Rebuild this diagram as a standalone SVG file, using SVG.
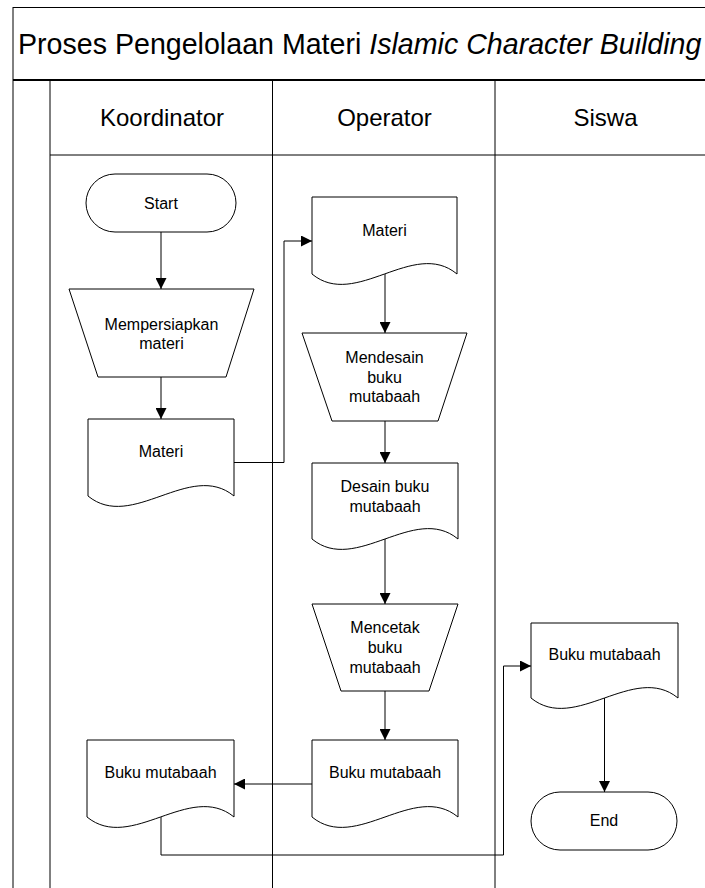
<svg xmlns="http://www.w3.org/2000/svg" width="705" height="888" viewBox="0 0 705 888">
<defs>
<style>
.ln{stroke:#000;stroke-width:1;fill:none}
.sh{stroke:#000;stroke-width:1;fill:#fff}
.t{font-family:"Liberation Sans",Arial,sans-serif;font-size:16px;fill:#000;text-anchor:middle}
.h{font-family:"Liberation Sans",Arial,sans-serif;font-size:24px;fill:#000;text-anchor:middle}
.ttl{font-family:"Liberation Sans",Arial,sans-serif;font-size:28.6px;fill:#000}
.c{stroke:#000;stroke-width:1;fill:none;marker-end:url(#arr)}
</style>
<marker id="arr" markerUnits="userSpaceOnUse" markerWidth="11" markerHeight="11" refX="11" refY="5.5" orient="auto">
<path d="M0,0 L11,5.5 L0,11 Z" fill="#000"/>
</marker>
</defs>
<rect width="705" height="888" fill="#fff"/>
<g id="pool">
<line class="ln" x1="13" y1="7.5" x2="705" y2="7.5"/>
<line class="ln" x1="13" y1="7" x2="13" y2="888"/>
<line x1="13" y1="80" x2="705" y2="80" stroke="#000" stroke-width="2"/>
<line class="ln" x1="50" y1="80" x2="50" y2="888"/>
<line class="ln" x1="272.5" y1="80" x2="272.5" y2="888"/>
<line class="ln" x1="495" y1="80" x2="495" y2="888"/>
<line class="ln" x1="50" y1="155" x2="705" y2="155"/>
<text class="ttl" x="18" y="54">Proses Pengelolaan Materi <tspan font-style="italic">Islamic Character Building</tspan></text>
<text class="h" x="162" y="126">Koordinator</text>
<text class="h" x="384.5" y="126">Operator</text>
<text class="h" x="605.5" y="126">Siswa</text>
</g>
<g id="connectors">
<path class="c" d="M161,232 V289"/>
<path class="c" d="M161,377 V419"/>
<path class="c" d="M234,462.5 H284 V241 H312"/>
<path class="c" d="M385,274 V333"/>
<path class="c" d="M385,421 V463"/>
<path class="c" d="M385,539 V604"/>
<path class="c" d="M385,691 V740"/>
<path class="c" d="M312,784 H234"/>
<path class="c" d="M161,817 V855 H503.5 V666 H531"/>
<path class="c" d="M604.5,698 V792"/>
</g>
<g id="start">
<rect class="sh" x="86" y="174" width="150" height="58" rx="29" ry="29"/>
<text class="t" x="161" y="209">Start</text>
</g>
<g id="mempersiapkan">
<path class="sh" d="M69,289 H254 L226,377 H98 Z"/>
<text class="t" x="161.5" y="330">Mempersiapkan</text>
<text class="t" x="161.5" y="349">materi</text>
</g>
<g id="materi-koordinator">
<path class="sh" d="M88,419 H234 V496 C190.2,460 131.8,532 88,496 Z"/>
<text class="t" x="161" y="457">Materi</text>
</g>
<g id="materi-operator">
<path class="sh" d="M312,197 H457 V274 C413.5,238 355.5,310 312,274 Z"/>
<text class="t" x="384.5" y="236">Materi</text>
</g>
<g id="mendesain">
<path class="sh" d="M302,333 H467 L438,421 H332 Z"/>
<text class="t" x="384.5" y="363">Mendesain</text>
<text class="t" x="384.5" y="382.5">buku</text>
<text class="t" x="384.5" y="402">mutabaah</text>
</g>
<g id="desain-buku">
<path class="sh" d="M312,463 H458 V539 C414.2,503 355.8,575 312,539 Z"/>
<text class="t" x="385" y="492">Desain buku</text>
<text class="t" x="385" y="512">mutabaah</text>
</g>
<g id="mencetak">
<path class="sh" d="M312,604 H458 L429,691 H341 Z"/>
<text class="t" x="385" y="633">Mencetak</text>
<text class="t" x="385" y="653">buku</text>
<text class="t" x="385" y="673">mutabaah</text>
</g>
<g id="buku-siswa">
<path class="sh" d="M531,623 H678 V698 C633.9,662 575.1,734 531,698 Z"/>
<text class="t" x="604.5" y="660">Buku mutabaah</text>
</g>
<g id="buku-operator">
<path class="sh" d="M312,740 H458 V817 C414.2,781 355.8,853 312,817 Z"/>
<text class="t" x="385" y="778">Buku mutabaah</text>
</g>
<g id="buku-koordinator">
<path class="sh" d="M87,740 H234 V817 C189.9,781 131.1,853 87,817 Z"/>
<text class="t" x="160.5" y="778">Buku mutabaah</text>
</g>
<g id="end">
<rect class="sh" x="531" y="792" width="146" height="58" rx="29" ry="29"/>
<text class="t" x="604" y="826">End</text>
</g>
</svg>
